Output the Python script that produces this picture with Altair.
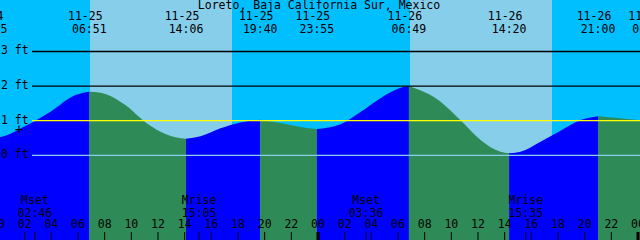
import altair as alt
import pandas as pd

TITLE = "Loreto, Baja California Sur, Mexico"

# Tide events (hours since 11-25 00:00) and heights in ft
event_hours = [-0.60, 6.85, 14.10, 19.667, 23.917, 30.817, 38.333, 45.0, 48.87]
event_heights = [0.50, 1.84, 0.48, 1.03, 0.76, 2.00, 0.06, 1.13, 0.99]
event_dates = ["11-24", "11-25", "11-25", "11-25", "11-25", "11-26", "11-26", "11-26", "11-27"]
event_times = ["23:25", "06:51", "14:06", "19:40", "23:55", "06:49", "14:20", "21:00", "00:52"]

# Curve heights read between events
read_hours = [0.19, 2.06, 3.94, 5.81, 7.69, 9.56, 10.91, 12.19, 13.31, 15.19, 16.69,
              18.19, 21.19, 22.69, 25.69, 27.19, 28.69, 30.19, 33.19, 34.69, 36.19,
              37.69, 39.19, 40.69, 42.19, 43.69, 46.69, 48.19]
read_heights = [0.53, 0.85, 1.26, 1.74, 1.81, 1.45, 1.00, 0.68, 0.52, 0.55, 0.78,
                0.95, 0.93, 0.82, 0.90, 1.25, 1.65, 1.95, 1.55, 1.01, 0.44,
                0.10, 0.10, 0.39, 0.71, 1.02, 1.07, 1.01]

# Daylight
sun_rise = [6.9, 30.9]
sun_set = [17.55, 41.55]

# Moon events
moon_hours = [2.767, 15.083, 27.6, 39.583]
moon_names = ["Mset", "Mrise", "Mset", "Mrise"]
moon_times = ["02:46", "15:05", "03:36", "15:35"]

# Datum lines
levels = [3, 2, 1, 0]
level_labels = ["3 ft", "2 ft", "1 ft", "0 ft"]
level_colors = ["#000000", "#000000", "#FFFF00", "#87CEEB"]

# Hour ticks
tick_hours = list(range(0, 49, 2))
tick_labels = ["%02d" % (h % 24) for h in tick_hours]

mark_hour = [1.575]
mark_height = [0.73]

X0, X1 = 0.15, 48.15
Y0, Y1 = -2.448, 4.488
FONT = "DejaVu Sans Mono"
FS = 11.5

xs = alt.Scale(domain=[X0, X1], nice=False, zero=False)
ys = alt.Scale(domain=[Y0, Y1], nice=False, zero=False)

# Build curve table split into rising / falling segments
pts = sorted(list(zip(event_hours, event_heights)) + list(zip(read_hours, read_heights)))
rows = []
for i in range(len(event_hours) - 1):
    a, b = event_hours[i], event_hours[i + 1]
    kind = "rise" if event_heights[i + 1] > event_heights[i] else "fall"
    for t, h in pts:
        if a - 1e-6 <= t <= b + 1e-6:
            rows.append({"t": t, "h": h, "seg": i, "kind": kind, "base": Y0})
curve = pd.DataFrame(rows)

sky = alt.Chart(pd.DataFrame({"a": sun_rise, "b": sun_set})).mark_rect(
    color="#87CEEB").encode(
    x=alt.X("a:Q", scale=xs, axis=None), x2="b:Q",
    y=alt.value(0), y2=alt.value(240))

water = alt.Chart(curve).mark_area(interpolate="monotone", clip=True).encode(
    x=alt.X("t:Q", scale=xs, axis=None),
    y=alt.Y("h:Q", scale=ys, axis=None, stack=None),
    y2="base:Q",
    color=alt.Color("kind:N", scale=alt.Scale(domain=["rise", "fall"],
                                              range=["#0000FF", "#2E8B57"]), legend=None),
    detail="seg:N")

ldf = pd.DataFrame({"lvl": levels, "lab": level_labels, "col": level_colors})
lines = alt.Chart(ldf).mark_rule(strokeWidth=1.3).encode(
    y=alt.Y("lvl:Q", scale=ys, axis=None),
    x=alt.value(32), x2=alt.value(640),
    color=alt.Color("col:N", scale=None))
line_labels = alt.Chart(ldf).mark_text(
    align="left", baseline="middle", font=FONT, fontSize=FS, color="black").encode(
    y=alt.Y("lvl:Q", scale=ys, axis=None), x=alt.value(1), text="lab:N")

edf = pd.DataFrame({"t": event_hours, "d": event_dates, "tm": event_times})
ev_date = alt.Chart(edf).mark_text(
    align="center", baseline="middle", font=FONT, fontSize=FS, color="black", dx=-4).encode(
    x=alt.X("t:Q", scale=xs, axis=None), y=alt.value(17), text="d:N")
ev_time = alt.Chart(edf).mark_text(
    align="center", baseline="middle", font=FONT, fontSize=FS, color="black").encode(
    x=alt.X("t:Q", scale=xs, axis=None), y=alt.value(30), text="tm:N")

title = alt.Chart(pd.DataFrame({"s": [TITLE]})).mark_text(
    align="center", baseline="middle", font=FONT, fontSize=FS, color="black").encode(
    x=alt.value(319), y=alt.value(6), text="s:N")

mdf = pd.DataFrame({"t": moon_hours, "n": moon_names, "tm": moon_times})
moon_n = alt.Chart(mdf).mark_text(
    align="center", baseline="middle", font=FONT, fontSize=FS, color="black").encode(
    x=alt.X("t:Q", scale=xs, axis=None), y=alt.value(201), text="n:N")
moon_t = alt.Chart(mdf).mark_text(
    align="center", baseline="middle", font=FONT, fontSize=FS, color="black").encode(
    x=alt.X("t:Q", scale=xs, axis=None), y=alt.value(213.5), text="tm:N")

tdf = pd.DataFrame({"t": tick_hours, "lab": tick_labels,
                    "w": [3 if h % 24 == 0 else 1 for h in tick_hours]})
tick_lab = alt.Chart(tdf).mark_text(
    align="center", baseline="middle", font=FONT, fontSize=FS, color="black").encode(
    x=alt.X("t:Q", scale=xs, axis=None), y=alt.value(225), text="lab:N")
ticks = alt.Chart(tdf).mark_rule(color="black").encode(
    x=alt.X("t:Q", scale=xs, axis=None), y=alt.value(232), y2=alt.value(240),
    strokeWidth=alt.StrokeWidth("w:Q", scale=None))
moon_ticks = alt.Chart(mdf).mark_rule(color="black", strokeWidth=1).encode(
    x=alt.X("t:Q", scale=xs, axis=None), y=alt.value(232), y2=alt.value(240))

plus = alt.Chart(pd.DataFrame({"t": mark_hour, "h": mark_height})).mark_text(
    text="+", font=FONT, fontSize=14, color="black", baseline="middle").encode(
    x=alt.X("t:Q", scale=xs, axis=None), y=alt.Y("h:Q", scale=ys, axis=None))

chart = alt.layer(
    sky, water, lines, line_labels, plus, title, ev_date, ev_time,
    moon_n, moon_t, tick_lab, ticks, moon_ticks
).properties(
    width=640, height=240, background="#00BFFF", padding=0,
    autosize=alt.AutoSizeParams(type="none")
).configure_view(stroke=None)

chart.save("out.html", embed_options={"renderer": "svg", "actions": False})
